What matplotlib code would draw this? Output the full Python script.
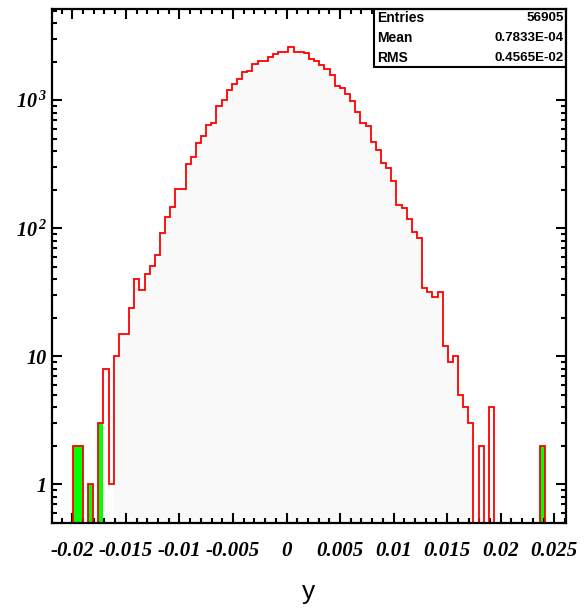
import numpy as np
import matplotlib
matplotlib.use("Agg")
import matplotlib.pyplot as plt
from matplotlib.patches import Rectangle
from matplotlib.ticker import FixedLocator, FixedFormatter, MultipleLocator, NullFormatter

# ---- data ----
x_range = (-0.0219, 0.0261)
n_bins = 100
counts = [0, 0, 0, 0, 2, 2, 0, 1, 0, 3,
          8, 1, 10, 15, 15, 24, 40, 33, 44, 51,
          62, 92, 122, 147, 203, 203, 317, 363, 459, 527,
          643, 666, 904, 995, 1197, 1326, 1470, 1655, 1684, 1900,
          2030, 2030, 2180, 2287, 2370, 2370, 2595, 2390, 2390, 2345,
          2100, 2005, 1890, 1767, 1567, 1285, 1249, 1108, 982, 806,
          661, 623, 473, 412, 324, 294, 232, 151, 144, 119,
          93, 84, 34, 32, 29, 32, 12, 9, 10, 5,
          4, 3, 0, 2, 0, 4, 0, 0, 0, 0,
          0, 0, 0, 0, 0, 2, 0, 0, 0, 0]
gray_bins = list(range(12, 82))
green_bins = [4, 5, 7, 9, 95]
x_ticks = [-0.02, -0.015, -0.01, -0.005, 0, 0.005, 0.01, 0.015, 0.02, 0.025]
x_tick_labels = ["-0.02", "-0.015", "-0.01", "-0.005", "0", "0.005", "0.01", "0.015", "0.02", "0.025"]
y_ticks = [1, 10, 100, 1000]
y_tick_labels = ["1", "10", "10$^{\\,2}$", "10$^{\\,3}$"]
stats_names = ["Entries", "Mean", "RMS"]
stats_values = ["56905", "0.7833E-04", "0.4565E-02"]
x_label = "y"

plt.rcParams['mathtext.fontset'] = 'custom'
plt.rcParams['mathtext.rm'] = 'Liberation Serif:bold:italic'
plt.rcParams['mathtext.it'] = 'Liberation Serif:bold:italic'
plt.rcParams['mathtext.bf'] = 'Liberation Serif:bold:italic'

counts = np.array(counts, dtype=float)
edges = np.linspace(x_range[0], x_range[1], n_bins + 1)
width = edges[1] - edges[0]

fig = plt.figure(figsize=(5.88, 6.11), dpi=100)
ax = fig.add_axes([52/588, 1-523/611, 514/588, 514/611])

ax.set_yscale('log')
ax.set_xlim(*x_range)
ax.set_ylim(0.5, 5150)

# gray fill of main region
gb = np.array(gray_bins)
ax.bar(edges[gb], counts[gb], width=width, align='edge', color='#f9f9f9',
       edgecolor='none', linewidth=0, zorder=1)
# green bins
gr = np.array(green_bins)
ax.bar(edges[gr], counts[gr], width=width, align='edge', color='#00ff00',
       edgecolor='none', linewidth=0, zorder=1.2)
# red outline
plot_counts = np.where(counts > 0, counts, 1e-3)
ax.stairs(plot_counts, edges, color='#ff0000', linewidth=1.3, baseline=1e-3, zorder=2)

# ticks
ax.xaxis.set_major_locator(FixedLocator(x_ticks))
ax.xaxis.set_major_formatter(FixedFormatter(x_tick_labels))
ax.xaxis.set_minor_locator(MultipleLocator(0.001))
ax.yaxis.set_major_locator(FixedLocator(y_ticks))
ax.yaxis.set_major_formatter(FixedFormatter(y_tick_labels))
minor_y = [m * 10**e for e in range(-1, 4) for m in range(2, 10)]
ax.yaxis.set_minor_locator(FixedLocator(minor_y))
ax.yaxis.set_minor_formatter(NullFormatter())

ax.tick_params(which='both', direction='in', top=True, right=True, width=1.5, color='black')
ax.tick_params(which='major', length=7.5)
ax.tick_params(which='minor', length=3.8)
ax.tick_params(axis='x', which='major', pad=13)
ax.tick_params(axis='y', which='major', pad=4)
for lab in ax.get_xticklabels():
    lab.set_fontfamily('Liberation Serif')
    lab.set_fontweight('bold')
    lab.set_fontstyle('italic')
    lab.set_fontsize(15)
for lab in ax.get_yticklabels():
    lab.set_fontfamily('Liberation Serif')
    lab.set_fontweight('bold')
    lab.set_fontstyle('italic')
    lab.set_fontsize(14.5)

for sp in ax.spines.values():
    sp.set_linewidth(1.6)

ax.set_xlabel(x_label, fontfamily='Liberation Sans', fontsize=19, va='top')
ax.xaxis.set_label_coords(0.5, (523 - 580) / 514)

# stats box
bx0 = (374 - 52) / 514
by0 = (523 - 66.7) / 514
ax.add_patch(Rectangle((bx0, by0), 1 - bx0, 1 - by0, transform=ax.transAxes,
                       facecolor='white', edgecolor='black', linewidth=1.5, zorder=2.4))
rows_y = [(523 - 18.3) / 514, (523 - 38.3) / 514, (523 - 58.3) / 514]
for name, val, yy in zip(stats_names, stats_values, rows_y):
    ax.text((377 - 52) / 514, yy, name, transform=ax.transAxes, ha='left', va='center',
            fontfamily='Liberation Sans', fontweight='bold', fontsize=10, zorder=3)
    ax.text((564 - 52) / 514, yy, val, transform=ax.transAxes, ha='right', va='center',
            fontfamily='Liberation Sans', fontweight='bold', fontsize=9.6, zorder=3)

fig.savefig("out.png", dpi=100)
